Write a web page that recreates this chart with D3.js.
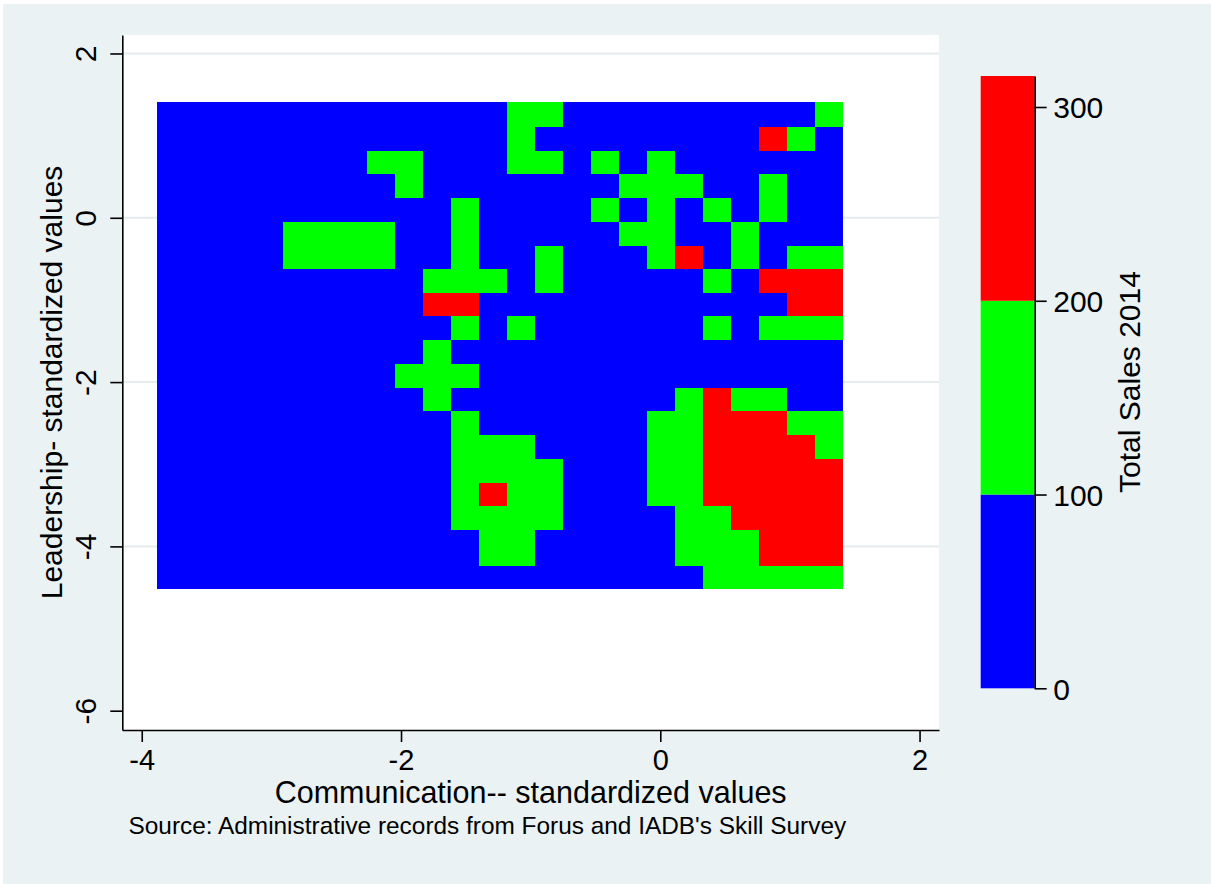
<!DOCTYPE html>
<html>
<head>
<meta charset="utf-8">
<script src="https://cdn.jsdelivr.net/npm/d3@7"></script>
<style>
  body { margin: 0; background: #fff; }
  text { font-family: 'Liberation Sans', Arial, Helvetica, sans-serif; fill: #000; }
</style>
</head>
<body>
<div id="container"></div>
<script>
// Bin edges of the heat grid, in standardized units
var commEdges = [-3.884, -3.774, -3.558, -3.342, -3.127, -2.911, -2.695, -2.479, -2.263,
  -2.048, -1.832, -1.616, -1.400, -1.184, -0.968, -0.752, -0.537, -0.321, -0.105,
  0.111, 0.327, 0.543, 0.759, 0.974, 1.190, 1.408];
var leadEdges = [1.406, 1.111, 0.819, 0.530, 0.241, -0.051, -0.340, -0.623, -0.912,
  -1.201, -1.491, -1.780, -2.068, -2.358, -2.646, -2.936, -3.226, -3.514, -3.803,
  -4.235, -4.519];

// Sales band of each cell, top row first. B = under 100, G = 100-200, R = 200+
var cellRows = [
  'BBBBBBBBBBBBBGGBBBBBBBBBG',
  'BBBBBBBBBBBBBGBBBBBBBBRGB',
  'BBBBBBBBGGBBBGGBGBGBBBBBB',
  'BBBBBBBBBGBBBBBBBGGGBBGBB',
  'BBBBBBBBBBBGBBBBGBGBGBGBB',
  'BBBBBGGGGBBGBBBBBGGBBGBBB',
  'BBBBBGGGGBBGBBGBBBGRBGBGG',
  'BBBBBBBBBBGGGBGBBBBBGBRRR',
  'BBBBBBBBBBRRBBBBBBBBBBBRR',
  'BBBBBBBBBBBGBGBBBBBBGBGGG',
  'BBBBBBBBBBGBBBBBBBBBBBBBB',
  'BBBBBBBBBGGGBBBBBBBBBBBBB',
  'BBBBBBBBBBGBBBBBBBBGRGGBB',
  'BBBBBBBBBBBGBBBBBBGGRRRGG',
  'BBBBBBBBBBBGGGBBBBGGRRRRG',
  'BBBBBBBBBBBGGGGBBBGGRRRRR',
  'BBBBBBBBBBBGRGGBBBGGRRRRR',
  'BBBBBBBBBBBGGGGBBBBGGRRRR',
  'BBBBBBBBBBBBGGBBBBBGGGRRR',
  'BBBBBBBBBBBBBBBBBBBBGGGGG'
];
var bandSales = { B: 50, G: 150, R: 250 };

var salesCuts = [100, 200];
var bandColours = ['#0000ff', '#00ff00', '#ff0000'];
var legendStops = [0, 100, 200, 316];
var salesTicks = [0, 100, 200, 300];
var xTicks = [-4, -2, 0, 2];
var yTicks = [2, 0, -2, -4, -6];
var gridTicks = [2, 0, -2, -4];

var width = 1211,
  height = 884,
  plotLeft = 122.3,
  plotRight = 939,
  plotTop = 35,
  plotBottom = 730;

var svg = d3.select('#container').append('svg').attr('width', width).attr('height', height);

// graph region
svg.append('rect').attr('width', width).attr('height', height).attr('fill', '#ffffff');
svg.append('rect').attr('x', 3).attr('y', 4).attr('width', width - 3).attr('height', height - 4)
  .attr('fill', '#eaf2f3');
svg.append('rect').attr('x', plotLeft).attr('y', plotTop)
  .attr('width', plotRight - plotLeft).attr('height', plotBottom - plotTop).attr('fill', '#ffffff');

var x = d3.scaleLinear().domain([-4.15, 2.15]).range([plotLeft, plotRight]);
var y = d3.scaleLinear().domain([-6.235, 2.225]).range([plotBottom, plotTop]);
var colour = d3.scaleThreshold().domain(salesCuts).range(bandColours);

// horizontal grid lines
svg.append('g').selectAll('line').data(gridTicks).enter().append('line')
  .attr('x1', plotLeft).attr('x2', plotRight)
  .attr('y1', d => y(d)).attr('y2', d => y(d))
  .attr('stroke', '#e4ecee').attr('stroke-width', 2);

// heat cells
var cells = [];
cellRows.forEach(function (row, r) {
  row.split('').forEach(function (band, c) {
    cells.push({ r: r, c: c, sales: bandSales[band] });
  });
});

svg.append('g').attr('shape-rendering', 'crispEdges')
  .selectAll('rect').data(cells).enter().append('rect')
  .attr('x', d => x(commEdges[d.c]))
  .attr('width', d => x(commEdges[d.c + 1]) - x(commEdges[d.c]))
  .attr('y', d => y(leadEdges[d.r]))
  .attr('height', d => y(leadEdges[d.r + 1]) - y(leadEdges[d.r]))
  .attr('fill', d => colour(d.sales));

// axes
var xAxis = d3.axisBottom(x).tickValues(xTicks).tickSize(12).tickSizeOuter(0).tickFormat(d => String(d));
var yAxis = d3.axisLeft(y).tickValues(yTicks).tickSize(12).tickSizeOuter(0).tickFormat(d => String(d));

var gx = svg.append('g').attr('transform', 'translate(0,' + plotBottom + ')').call(xAxis);
gx.selectAll('text').attr('y', 40).attr('dy', null).style('font-size', '29px');

var gy = svg.append('g').attr('transform', 'translate(' + plotLeft + ',0)').call(yAxis);
gy.selectAll('text').attr('x', null).attr('dy', null).attr('text-anchor', 'middle')
  .attr('transform', 'translate(-26,0) rotate(-90)').style('font-size', '30px');

[gx, gy].forEach(function (g) {
  g.select('.domain').attr('stroke', '#000').attr('stroke-width', 1.6);
  g.selectAll('.tick line').attr('stroke', '#000').attr('stroke-width', 1.6);
  g.attr('font-family', null).attr('font-size', null);
});

// axis titles
svg.append('text').attr('x', (plotLeft + plotRight) / 2).attr('y', 803)
  .attr('text-anchor', 'middle').style('font-size', '30.5px')
  .text('Communication-- standardized values');

svg.append('text').attr('transform', 'translate(61.5,' + (plotTop + plotBottom) / 2 + ') rotate(-90)')
  .attr('text-anchor', 'middle').style('font-size', '30px')
  .text('Leadership- standardized values');

// colour legend
var legendY = d3.scaleLinear().domain([0, 316]).range([688.3, 76]);
var legendLeft = 980.7,
  legendRight = 1034.7;

svg.append('g').selectAll('rect').data(bandColours).enter().append('rect')
  .attr('x', legendLeft)
  .attr('width', legendRight - legendLeft)
  .attr('y', (d, i) => legendY(legendStops[i + 1]))
  .attr('height', (d, i) => legendY(legendStops[i]) - legendY(legendStops[i + 1]))
  .attr('fill', d => d);

var legendAxis = d3.axisRight(legendY).tickValues(salesTicks).tickSize(12).tickSizeOuter(0);
var gl = svg.append('g').attr('transform', 'translate(' + legendRight + ',0)').call(legendAxis);
gl.attr('font-family', null).attr('font-size', null);
gl.select('.domain').attr('stroke', '#000').attr('stroke-width', 1.6);
gl.selectAll('.tick line').attr('stroke', '#000').attr('stroke-width', 1.6);
gl.selectAll('text').attr('x', 18.5).attr('dy', '0.36em').style('font-size', '30px');

svg.append('text').attr('transform', 'translate(1140,382) rotate(-90)')
  .attr('text-anchor', 'middle').style('font-size', '30px')
  .text('Total Sales 2014');

// note
svg.append('text').attr('x', 128.5).attr('y', 834).style('font-size', '24.4px')
  .text("Source: Administrative records from Forus and IADB's Skill Survey");
</script>
</body>
</html>
